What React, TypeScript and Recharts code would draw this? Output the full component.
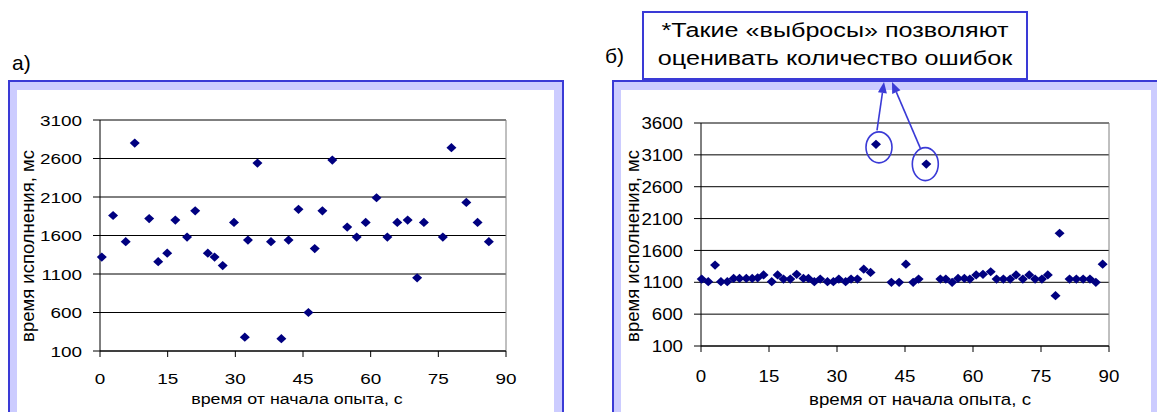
import React from "react"
import { CartesianGrid, ReferenceDot, ReferenceLine, Scatter, ScatterChart, XAxis, YAxis } from "recharts"

// время от начала опыта, с / время исполнения, мс
const leftTime = [
  0.4, 2.9, 5.7, 7.7, 10.9, 12.9, 14.9, 16.7, 19.3, 21.1, 23.9, 25.4, 27.2, 29.7, 32.1, 32.8, 34.9, 37.9, 40.2, 41.8,
  44.0, 46.2, 47.6, 49.3, 51.5, 54.8, 56.9, 58.9, 61.3, 63.7, 65.9, 68.2, 70.3, 71.8, 76.0, 77.9, 81.2, 83.7, 86.2,
]
const leftMs = [
  1320, 1860, 1520, 2800, 1820, 1260, 1370, 1800, 1580, 1920, 1370, 1320, 1210, 1770, 280, 1540, 2540, 1520, 260, 1540,
  1940, 600, 1430, 1920, 2580, 1710, 1580, 1770, 2090, 1580, 1770, 1800, 1050, 1770, 1580, 2740, 2030, 1770, 1520,
]

const rightTime = [
  0.15, 1.6, 3.1, 4.4, 5.8, 7.2, 8.5, 10.0, 11.3, 12.5, 13.8, 15.6, 16.9, 18.2, 19.7, 21.1, 22.6, 23.7, 25.0, 26.3,
  27.9, 29.2, 30.4, 31.9, 33.1, 34.5, 35.9, 37.4, 38.6, 42.0, 43.7, 45.2, 46.8, 48.0, 49.7, 52.8, 54.0, 55.4, 56.7, 58.1,
  59.3, 60.7, 62.2, 63.9, 65.2, 66.7, 68.2, 69.5, 71.0, 72.4, 73.7, 75.2, 76.5, 78.2, 79.1, 81.3, 82.8, 84.3, 85.8, 87.1,
  88.6,
]
const rightMs = [
  1150, 1110, 1370, 1110, 1110, 1160, 1160, 1160, 1160, 1170, 1215, 1110, 1215, 1150, 1150, 1225, 1160, 1160, 1110, 1150,
  1110, 1110, 1150, 1110, 1150, 1150, 1305, 1255, 3265, 1100, 1100, 1385, 1100, 1150, 2955, 1150, 1150, 1100, 1160, 1160,
  1150, 1215, 1225, 1265, 1150, 1150, 1150, 1215, 1150, 1215, 1150, 1150, 1215, 890, 1870, 1150, 1150, 1150, 1150, 1100,
  1385,
]

// outliers marked on the right chart
const outliers = [
  { t: 38.6, ms: 3265 },
  { t: 49.7, ms: 2955 },
]

const xTicks = [0, 15, 30, 45, 60, 75, 90]
const leftYTicks = [100, 600, 1100, 1600, 2100, 2600, 3100]
const rightYTicks = [100, 600, 1100, 1600, 2100, 2600, 3100, 3600]

const xTitle = "время от начала опыта, с"
const yTitle = "время исполнения, мс"
const noteLines = ["*Такие «выбросы» позволяют", "оценивать количество ошибок"]

const FONT = '"Liberation Sans", Arial, sans-serif'
const BLUE = "#3a3ad6"
const NAVY = "#000080"

const leftData = leftTime.map((t, i) => ({ t, ms: leftMs[i] }))
const rightData = rightTime.map((t, i) => ({ t, ms: rightMs[i] }))

function Diamond(props: any) {
  const { cx, cy } = props
  if (cx == null || cy == null) return null
  return <polygon points={`${cx},${cy - 4.6} ${cx + 5},${cy} ${cx},${cy + 4.6} ${cx - 5},${cy}`} fill={NAVY} />
}

function YTick(props: any) {
  const { x, y, payload, fs, sx } = props
  return (
    <text transform={`translate(${x},${y}) scale(${sx},1)`} textAnchor="end" dy="0.36em" fontSize={fs} fill="#000" fontFamily={FONT}>
      {payload.value}
    </text>
  )
}

function XTick(props: any) {
  const { x, y, payload, fs, sx } = props
  return (
    <text transform={`translate(${x},${y}) scale(${sx},1)`} textAnchor="middle" dy="0.72em" fontSize={fs} fill="#000" fontFamily={FONT}>
      {payload.value}
    </text>
  )
}

function AxisText(props: any) {
  const { tx, ty, rot, sx, fs, text } = props
  const tr = rot ? `translate(${tx},${ty}) rotate(-90)` : `translate(${tx},${ty}) scale(${sx},1)`
  return (
    <text transform={tr} textAnchor="middle" dy={rot ? "0.36em" : 0} fontSize={fs} fill="#000" fontFamily={FONT}>
      {text}
    </text>
  )
}

// circle round an outlier and an arrow up to the note box
function OutlierMark(props: any) {
  const { cx, cy, ox, oy, rx, ry, sx, sy, tipX, tipY } = props
  if (cx == null || cy == null) return null
  const x0 = cx + sx
  const y0 = cy + sy
  const dx = tipX - x0
  const dy = tipY - y0
  const len = Math.sqrt(dx * dx + dy * dy)
  const ux = dx / len
  const uy = dy / len
  const bx = tipX - ux * 11
  const by = tipY - uy * 11
  const px = -uy * 4.5
  const py = ux * 4.5
  return (
    <g>
      <ellipse cx={cx + ox} cy={cy + oy} rx={rx} ry={ry} fill="none" stroke={BLUE} strokeWidth={1.6} />
      <line x1={x0} y1={y0} x2={bx} y2={by} stroke={BLUE} strokeWidth={1.6} />
      <polygon points={`${tipX},${tipY} ${bx + px},${by + py} ${bx - px},${by - py}`} fill={BLUE} />
    </g>
  )
}

function Frame({ left, width }: { left: number; width: number }) {
  return (
    <div
      style={{
        position: "absolute",
        left,
        top: 80,
        width,
        height: 400,
        boxSizing: "border-box",
        border: `2px solid ${BLUE}`,
        background: "#ccccff",
      }}
    >
      <div style={{ position: "absolute", left: 7, top: 8, right: 8, bottom: 0, background: "#fff" }} />
    </div>
  )
}

export default function App() {
  return (
    <div
      style={{
        position: "absolute",
        left: 0,
        top: 0,
        width: 1157,
        height: 412,
        overflow: "hidden",
        background: "#fff",
        fontFamily: FONT,
      }}
    >
      <Frame left={8} width={556} />
      <Frame left={612} width={549} />

      <svg width={1157} height={412} style={{ position: "absolute", left: 0, top: 0 }}>
        <text x={12} y={70} fontSize={21} fontFamily={FONT} fill="#000">
          а)
        </text>
        <text x={605} y={63} fontSize={21} fontFamily={FONT} fill="#000">
          б)
        </text>
        <rect x={643} y={12} width={384} height={67} fill="#fff" stroke={BLUE} strokeWidth={2} />
        {noteLines.map((s, i) => (
          <text
            key={i}
            transform={`translate(835,${37 + i * 28}) scale(1.29,1)`}
            textAnchor="middle"
            fontSize={19.5}
            fontFamily={FONT}
            fill="#000"
          >
            {s}
          </text>
        ))}
      </svg>

      <div style={{ position: "absolute", left: 0, top: 0 }}>
        <ScatterChart width={570} height={412} margin={{ top: 120, right: 64, bottom: 11, left: 10 }}>
          <CartesianGrid vertical={false} stroke="#000" />
          <XAxis
            type="number"
            dataKey="t"
            domain={[0, 90]}
            ticks={xTicks}
            interval={0}
            height={50}
            tickSize={6}
            tickMargin={16}
            stroke="#000"
            tick={<XTick fs={15.5} sx={1.22} />}
            label={<AxisText tx={297} ty={404} sx={1.15} fs={15.5} text={xTitle} />}
          />
          <YAxis
            type="number"
            dataKey="ms"
            domain={[100, 3100]}
            ticks={leftYTicks}
            interval={0}
            width={90}
            tickSize={7}
            tickMargin={11}
            stroke="#000"
            tick={<YTick fs={15.5} sx={1.22} />}
            label={<AxisText tx={27} ty={246} rot fs={18.5} text={yTitle} />}
          />
          <ReferenceLine x={90} stroke="#808080" />
          <Scatter data={leftData} fill={NAVY} shape={<Diamond />} isAnimationActive={false} />
        </ScatterChart>
      </div>

      <div style={{ position: "absolute", left: 600, top: 0 }}>
        <ScatterChart width={557} height={412} margin={{ top: 123, right: 48, bottom: 16, left: 11 }}>
          <CartesianGrid vertical={false} stroke="#000" />
          <XAxis
            type="number"
            dataKey="t"
            domain={[0, 90]}
            ticks={xTicks}
            interval={0}
            height={50}
            tickSize={6}
            tickMargin={18}
            stroke="#000"
            tick={<XTick fs={17} sx={1.1} />}
            label={<AxisText tx={320} ty={405} sx={1.1} fs={17} text={xTitle} />}
          />
          <YAxis
            type="number"
            dataKey="ms"
            domain={[100, 3600]}
            ticks={rightYTicks}
            interval={0}
            width={90}
            tickSize={7}
            tickMargin={11}
            stroke="#000"
            tick={<YTick fs={17} sx={1.1} />}
            label={<AxisText tx={32} ty={246} rot fs={18.5} text={yTitle} />}
          />
          <ReferenceLine x={90} stroke="#808080" />
          <Scatter data={rightData} fill={NAVY} shape={<Diamond />} isAnimationActive={false} />
          <ReferenceDot
            x={outliers[0].t}
            y={outliers[0].ms}
            shape={(p: any) => (
              <OutlierMark {...p} ox={3} oy={3} rx={13} ry={15.5} sx={1} sy={-14} tipX={284} tipY={82} />
            )}
          />
          <ReferenceDot
            x={outliers[1].t}
            y={outliers[1].ms}
            shape={(p: any) => (
              <OutlierMark {...p} ox={-1} oy={0} rx={13} ry={16.5} sx={-6} sy={-16} tipX={292} tipY={82} />
            )}
          />
        </ScatterChart>
      </div>
    </div>
  )
}
